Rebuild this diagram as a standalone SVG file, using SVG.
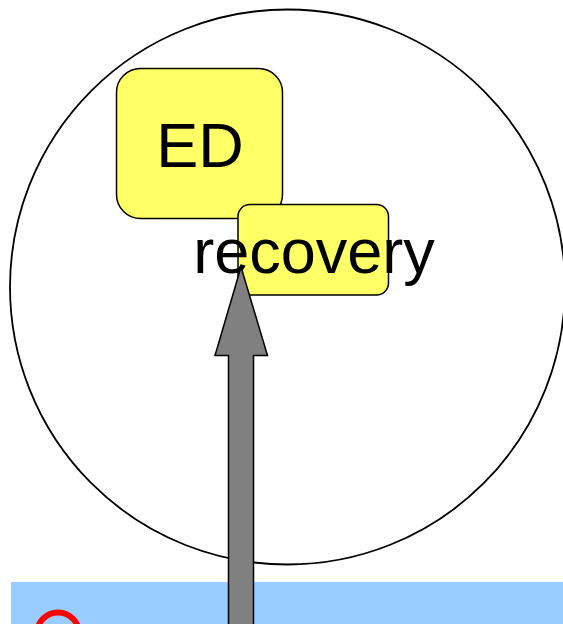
<svg xmlns="http://www.w3.org/2000/svg" width="563" height="624" viewBox="0 0 563 624">
<style>
.node{fill:#ffff66;stroke:#000;stroke-width:1.5}
.lbl{font-family:"Liberation Sans",Arial,sans-serif;font-size:63px;fill:#000;text-anchor:middle}
</style>
<rect width="563" height="624" fill="#fff"/>
<g id="boundary"><circle cx="287.5" cy="287" r="277.5" fill="none" stroke="#000" stroke-width="1.8"/></g>
<g id="ED"><rect class="node" x="116.5" y="68.5" width="166" height="150" rx="24"/><text class="lbl" x="200" y="167">ED</text></g>
<g id="recovery"><rect class="node" x="238" y="204.5" width="150.5" height="90.5" rx="12"/><text class="lbl" x="314" y="273">recovery</text></g>
<g id="ground"><rect x="11" y="582" width="552" height="42" fill="#99ccff"/><circle cx="58" cy="633.5" r="21" fill="none" stroke="#ff0000" stroke-width="6"/></g>
<g id="connectors"><path d="M241 267 L267.5 355.5 L253.5 355.5 L253.5 630 L228.5 630 L228.5 355.5 L215 355.5 Z" fill="#808080" stroke="#000" stroke-width="1.5" stroke-linejoin="miter"/></g>
</svg>
